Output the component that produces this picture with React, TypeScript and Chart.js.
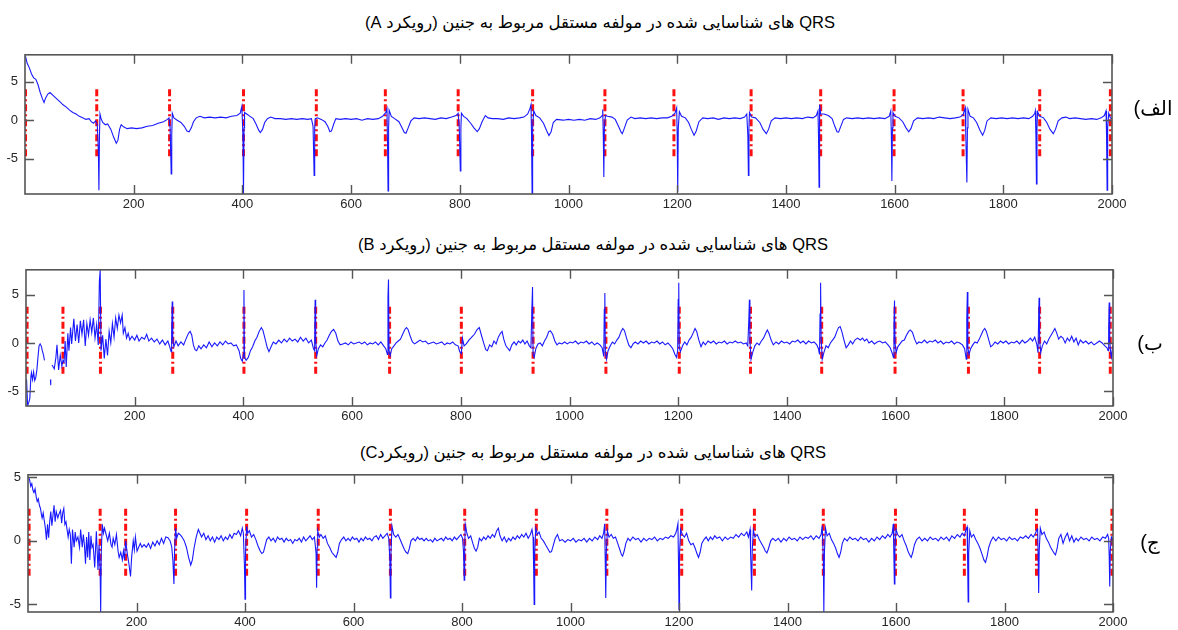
import React, { useEffect, useRef } from "react";
import { Chart, registerables } from "chart.js";
Chart.register(...registerables);

// ---------- data ----------
const xTicks = [200, 400, 600, 800, 1000, 1200, 1400, 1600, 1800, 2000];
const yTicks = [-5, 0, 5];

const titleA = "QRS های شناسایی شده در مولفه مستقل مربوط به جنین (رویکرد A)";
const titleB = "QRS های شناسایی شده در مولفه مستقل مربوط به جنین (رویکرد B)";
const titleC = "QRS های شناسایی شده در مولفه مستقل مربوط به جنین (رویکردC)";
const labelA = "الف)";
const labelB = "ب)";
const labelC = "ج)";

const yRangeA = [-9.6, 8.5];
const yRangeB = [-6.55, 7.6];
const yRangeC = [-5.6, 5.2];

const redA = [1, 132, 266, 402, 536, 663, 797, 934, 1067, 1194, 1336, 1464, 1599, 1726, 1867, 1997];
const redB = [2, 68, 137, 270, 401, 533, 669, 801, 933, 1067, 1202, 1333, 1464, 1599, 1734, 1865, 1995];
const redC = [2, 133, 180, 272, 403, 535, 668, 805, 937, 1067, 1205, 1339, 1466, 1599, 1726, 1859, 1998];
const redSpanA = [-4.7, 4.4];
const redSpanB = [-3.2, 3.9];
const redSpanC = [-2.75, 2.6];

const sigA = [
  [1,8.3],[4,7.4],[8,6.8],[12,6.0],[16,5.5],[20,5.3],[24,4.6],[28,3.6],[32,2.8],[35,2.3],[38,2.9],[42,3.4],[46,3.6],[52,3.2],[58,2.8],[64,2.4],[70,2.0],[76,1.7],[82,1.3],[88,1.0],[94,0.8],[100,0.5],[106,0.3],[112,0.1],[118,0.2],[122,-0.2],[126,-0.4],[130,-0.1],[133,-0.6],[135,-4],[136,-9.1],[137,-2],[138,0.8],[140,0.2],[143,-0.3],[148,-0.6],[152,-0.5],[158,-1.2],[163,-2.2],[168,-3.0],[171,-2.6],[174,-1.2],[177,-0.6],[182,-0.9],[188,-1.1],[196,-1.0],[205,-1.1],[215,-1.0],[225,-0.8],[235,-0.7],[245,-0.4],[255,-0.2],[262,0.1],[265,0.3],[267,-1],[269,-7.0],[270,-2],[271,0.9],[274,0.3],[280,0],[287,-0.3],[293,-0.8],[298,-1.4],[302,-1.5],[306,-1.0],[310,-0.2],[315,0.3],[322,0.5],[330,0.3],[340,0.4],[350,0.3],[360,0.4],[370,0.3],[380,0.5],[390,0.6],[396,0.9],[399,1.8],[401,-2],[402,-9.6],[403,-1],[404,1.0],[408,0.8],[414,0.5],[420,0.2],[425,-0.5],[430,-1.3],[433,-1.6],[437,-1.2],[441,-0.3],[446,0.2],[452,0.4],[460,0.2],[470,0.2],[480,0.1],[490,0.2],[500,0.1],[510,0.2],[520,0.1],[527,0.2],[530,-0.8],[532,-7.2],[533,-1],[534,0.2],[538,0.3],[545,0.1],[552,-0.2],[557,-0.8],[561,-1.5],[564,-1.4],[568,-0.5],[572,0.2],[580,0.1],[590,0.2],[600,0.1],[610,0.2],[620,0.0],[630,0.2],[640,0.1],[650,0.2],[658,0.5],[664,1.0],[666,1.5],[667,-3],[668,-9.2],[669,-1],[670,1.3],[674,0.5],[680,0.2],[688,-0.2],[693,-0.9],[698,-1.6],[701,-1.7],[705,-1.0],[710,-0.1],[716,0.3],[725,0.2],[735,0.3],[745,0.2],[755,0.1],[765,0.3],[775,0.2],[785,0.4],[793,0.6],[797,0.9],[799,-1],[801,-6.6],[802,-1],[803,0.9],[807,0.5],[813,0.2],[820,-0.4],[826,-1.0],[832,-1.5],[836,-1.1],[841,-0.2],[847,0.6],[852,0.3],[860,0.2],[870,0.2],[880,0.1],[890,0.3],[900,0.2],[910,0.3],[918,0.4],[925,0.8],[929,1.5],[931,2.0],[932,-2],[933,-9.6],[934,-1],[936,1.2],[940,0.6],[947,0.3],[954,-0.4],[960,-1.4],[964,-2.0],[968,-1.5],[972,-0.3],[978,0.1],[990,0.0],[1000,0.1],[1010,0.0],[1020,0.1],[1030,0.0],[1040,0.2],[1050,0.1],[1058,0.3],[1062,0.6],[1063,1.4],[1064,-2],[1065,-7.4],[1066,-1],[1068,0.6],[1072,0.5],[1080,0.4],[1086,0.1],[1092,-0.8],[1097,-1.6],[1099,-1.75],[1103,-1.0],[1108,0.0],[1115,0.4],[1122,0.2],[1132,0.3],[1142,0.2],[1152,0.3],[1162,0.2],[1172,0.3],[1182,0.3],[1190,0.5],[1196,0.9],[1199,1.6],[1200,-2],[1201,-9.3],[1202,-1],[1204,1.1],[1208,0.5],[1215,0.3],[1221,-0.3],[1226,-1.2],[1231,-1.95],[1235,-1.4],[1240,-0.2],[1247,0.3],[1256,0.2],[1266,0.3],[1276,0.1],[1286,0.3],[1296,0.2],[1306,0.3],[1316,0.2],[1324,0.4],[1328,0.8],[1330,-2],[1331,-7.2],[1332,-1],[1333,1.0],[1337,0.4],[1344,0.3],[1352,-0.3],[1358,-1.2],[1364,-1.75],[1368,-1.2],[1373,-0.1],[1380,0.3],[1390,0.2],[1400,0.3],[1410,0.2],[1420,0.3],[1430,0.2],[1440,0.4],[1450,0.3],[1456,0.6],[1459,1.2],[1460,-2],[1461,-8.7],[1462,2.0],[1464,0.8],[1470,0.8],[1478,0.6],[1485,0.2],[1490,-0.8],[1494,-1.5],[1497,-1.55],[1501,-0.8],[1506,0.1],[1512,0.3],[1522,0.2],[1532,0.3],[1542,0.2],[1552,0.3],[1562,0.2],[1572,0.3],[1582,0.2],[1590,0.5],[1593,1.2],[1594,-2],[1595,-7.9],[1596,-1],[1597,1.0],[1601,0.5],[1608,0.3],[1615,-0.2],[1621,-1.0],[1626,-1.5],[1630,-1.1],[1635,-0.1],[1642,0.3],[1652,0.2],[1662,0.3],[1672,0.2],[1682,0.4],[1692,0.3],[1702,0.2],[1712,0.3],[1720,0.4],[1726,0.7],[1730,1.6],[1731,-2],[1733,-8.1],[1734,-1],[1735,1.4],[1739,0.5],[1745,0.3],[1751,-0.3],[1757,-1.3],[1762,-1.95],[1766,-1.3],[1770,-0.1],[1777,0.3],[1787,0.2],[1797,0.3],[1807,0.2],[1817,0.3],[1827,0.2],[1837,0.3],[1847,0.2],[1854,0.5],[1858,0.9],[1859,1.2],[1860,-2],[1861,-8.3],[1862,-1],[1863,1.1],[1867,0.5],[1874,0.3],[1880,-0.3],[1886,-1.2],[1892,-1.75],[1896,-1.2],[1901,-0.1],[1908,0.3],[1915,0.4],[1922,0.2],[1932,0.3],[1942,0.2],[1952,0.1],[1962,0.2],[1972,0.1],[1980,0.3],[1986,0.6],[1989,1.2],[1990,-2],[1991,-9.1],[1992,-1],[1994,0.9],[1997,0.3],[2000,0.2]
];

const sigB = [
  [1,-3.8],[3,-6.5],[5,-6.2],[7,-5.8],[9,-3.5],[10,-3.1],[12,-3.8],[14,-3.0],[16,-3.9],[18,-3.6],[20,-2.8],[22,-1.5],[24,-0.3],[26,-0.1],[28,-0.3],[30,-0.8],[32,-1.2],[34,-1.8],[35,null],[45,-3.8],[45.5,-4.4],[46,null],
  [48,-2.3],[52,-2.7],[55,-1.5],[57,-0.2],[60,-2.8],[63,-1.3],[66,-2.4],[68,-1.8],[70,-2.0],[72,0.2],[74,-2.5],[77,1.0],[79,-0.8],[82,1.6],[84,-0.1],[88,2.5],[91,0.2],[94,1.9],[97,0.0],[100,2.3],[103,0.9],[106,2.4],[109,-0.3],[112,2.0],[115,0.8],[118,2.4],[121,1.1],[124,2.6],[127,0.5],[130,1.9],[133,-0.2],[135,6.4],[136.5,7.6],[138,-0.8],[141,0.8],[144,-1.6],[147,0.4],[150,-1.3],[153,1.2],[156,0.0],[159,2.0],[162,0.6],[165,2.6],[168,1.5],[171,2.9],[174,2.1],[177,2.9],[179,1.0],[182,1.6],[185,0.5],[188,1.0],[191,0.3],[195,0.7],[200,0.3],[204,0.8],[208,0.2],[213,0.6],[218,0.4],[222,0.9],[226,0.2],[231,0.5],[236,0.1],[241,0.4],[246,-0.1],[251,0.3],[256,-0.2],[261,0.2],[265,-0.5],[267,-0.9],[268,1.0],[269,4.3],[270,0.5],[272,-0.4],[276,0.2],[280,-0.3],[285,0.1],[290,-0.2],[295,0.5],[299,1.0],[302,1.2],[305,0.8],[308,-0.2],[311,-0.7],[314,-0.8],[318,-0.3],[322,-0.6],[327,-0.2],[332,-0.5],[337,0.1],[342,-0.4],[347,0.0],[352,-0.3],[357,0.1],[362,-0.2],[367,0.2],[372,-0.1],[377,0.0],[382,-0.3],[387,-0.2],[392,-0.8],[395,-1.6],[398,-1.9],[400,-1.2],[401,5.5],[402,-1.5],[405,-1.8],[409,-1.5],[413,-0.8],[417,-0.4],[421,0.2],[425,0.6],[429,1.2],[433,1.6],[436,1.3],[440,0.4],[444,-0.5],[447,-0.9],[451,-0.4],[455,0.1],[460,-0.1],[465,0.3],[470,0.0],[475,0.4],[480,0.1],[485,0.5],[490,0.2],[495,0.4],[500,0.1],[505,0.6],[510,0.2],[515,0.5],[520,0.0],[525,0.3],[529,-0.6],[531,-0.8],[532,4.5],[533,0.3],[535,-1.3],[538,-0.6],[542,-0.2],[546,-0.4],[550,0.0],[554,0.3],[558,0.8],[562,1.2],[566,1.4],[570,1.0],[574,0.2],[578,-0.2],[583,-0.1],[588,0.0],[593,-0.2],[598,0.1],[603,-0.1],[608,0.0],[613,0.1],[618,-0.1],[623,0.1],[628,-0.2],[633,0.0],[638,-0.1],[643,0.1],[648,-0.2],[653,0.1],[658,-0.3],[662,-0.6],[665,-1.2],[666,4.8],[667,6.6],[668,-0.8],[670,-1.3],[673,-0.6],[677,-0.3],[681,0.0],[685,0.2],[689,0.4],[693,0.9],[697,1.4],[700,1.6],[703,1.4],[707,0.7],[711,0.1],[715,-0.1],[720,0.1],[725,0.3],[730,0.1],[735,0.2],[740,-0.1],[745,0.0],[750,0.1],[755,-0.1],[760,0.0],[765,0.1],[770,-0.2],[775,0.0],[780,-0.1],[785,0.1],[790,-0.2],[795,-0.3],[798,-0.9],[801,-1.1],[803,0.5],[806,-0.3],[810,-0.1],[815,0.3],[820,0.6],[825,0.9],[830,1.4],[834,1.6],[838,0.8],[842,0.0],[846,-0.7],[849,-0.8],[853,-0.2],[857,-0.4],[861,0.2],[865,-0.1],[869,0.6],[873,1.0],[876,1.2],[879,0.4],[883,-0.3],[887,-0.6],[890,-0.8],[894,-0.2],[898,0.1],[902,-0.2],[906,0.2],[910,0.0],[914,0.3],[918,-0.1],[922,0.2],[926,-0.3],[929,-0.5],[931,4.0],[932,5.8],[933,-1.2],[935,-1.5],[938,-0.6],[942,-0.1],[946,0.0],[950,-0.3],[954,0.2],[958,0.6],[962,1.2],[965,1.25],[969,0.9],[973,0.2],[977,-0.2],[981,0.0],[986,-0.1],[991,0.1],[996,-0.1],[1001,0.1],[1006,0.0],[1011,0.2],[1016,-0.1],[1021,0.1],[1026,0.0],[1031,0.2],[1036,-0.1],[1041,0.1],[1046,-0.2],[1051,0.0],[1056,-0.2],[1060,-0.5],[1063,-1.4],[1064,3.5],[1065,5.2],[1066,-1.0],[1068,-1.7],[1071,-0.8],[1075,-0.3],[1079,0.1],[1083,-0.1],[1087,0.3],[1091,0.6],[1095,1.2],[1098,1.5],[1101,1.3],[1105,0.5],[1109,-0.2],[1113,-0.5],[1117,-0.1],[1121,0.1],[1126,-0.1],[1131,0.2],[1136,0.0],[1141,0.2],[1146,-0.1],[1151,0.1],[1156,0.0],[1161,0.2],[1166,-0.1],[1171,0.1],[1176,-0.2],[1181,0.0],[1186,-0.3],[1190,-0.6],[1194,-1.2],[1197,-1.5],[1199,-0.8],[1200,4.5],[1201,6.25],[1202,-0.5],[1204,-0.9],[1208,-0.3],[1212,0.1],[1216,-0.2],[1220,0.3],[1224,0.6],[1228,1.1],[1231,1.5],[1234,1.2],[1238,0.3],[1242,-0.4],[1246,0.1],[1250,-0.2],[1255,0.2],[1260,0.0],[1265,0.2],[1270,-0.1],[1275,0.1],[1280,0.0],[1285,0.2],[1290,-0.1],[1295,0.1],[1300,0.0],[1305,0.2],[1310,0.0],[1315,0.1],[1320,-0.1],[1325,0.0],[1328,-0.3],[1330,2.5],[1331,4.5],[1332,0.2],[1334,-1.7],[1337,-1.0],[1341,-0.3],[1345,0.0],[1349,-0.2],[1353,0.2],[1357,0.5],[1361,1.0],[1364,1.35],[1367,1.0],[1371,0.3],[1375,-0.2],[1380,0.1],[1385,-0.1],[1390,0.2],[1395,0.0],[1400,0.1],[1405,-0.1],[1410,0.2],[1415,0.1],[1420,0.3],[1425,0.0],[1430,0.2],[1435,-0.1],[1440,0.2],[1445,0.0],[1450,0.1],[1455,-0.2],[1458,-0.6],[1460,-1.2],[1461,3.0],[1462,6.25],[1463,0.5],[1465,-1.7],[1468,-1.0],[1472,-0.3],[1476,-0.5],[1480,0.0],[1484,0.3],[1488,0.6],[1492,1.2],[1495,1.6],[1498,1.7],[1501,1.2],[1505,0.3],[1509,-0.5],[1513,-0.2],[1517,0.2],[1521,-0.1],[1525,0.3],[1530,0.5],[1535,0.3],[1539,0.5],[1543,0.2],[1547,0.4],[1551,0.0],[1556,0.2],[1561,-0.1],[1566,0.1],[1571,0.2],[1576,0.0],[1581,0.1],[1586,-0.2],[1590,-0.5],[1594,-1.1],[1596,-1.5],[1597,2.0],[1598,4.4],[1599,0.0],[1601,-1.0],[1604,-0.4],[1608,-0.1],[1612,0.2],[1616,0.3],[1620,0.8],[1624,1.2],[1627,1.35],[1631,1.1],[1635,0.4],[1639,-0.1],[1643,0.1],[1648,0.0],[1653,0.3],[1658,0.0],[1663,0.2],[1668,0.1],[1673,0.3],[1678,0.0],[1683,0.2],[1688,-0.1],[1693,0.1],[1698,0.0],[1703,0.2],[1708,-0.1],[1713,0.1],[1718,0.0],[1723,-0.2],[1727,-0.6],[1730,-1.7],[1731,2.5],[1732,5.3],[1733,-0.5],[1735,-1.2],[1738,-0.6],[1742,-0.2],[1746,0.1],[1750,0.0],[1754,0.4],[1758,0.9],[1761,1.3],[1764,1.5],[1767,1.2],[1771,0.4],[1775,-0.4],[1779,-0.2],[1783,0.1],[1788,-0.1],[1793,0.2],[1798,0.0],[1803,0.2],[1808,-0.1],[1813,0.1],[1818,0.0],[1823,0.2],[1828,-0.1],[1833,0.3],[1838,0.0],[1843,0.2],[1848,0.5],[1852,0.2],[1856,0.6],[1860,-0.2],[1862,-1.0],[1863,2.0],[1864,4.7],[1865,0.3],[1867,-1.0],[1870,-0.3],[1874,0.2],[1878,-0.1],[1882,0.4],[1886,0.8],[1890,1.2],[1893,1.5],[1896,1.1],[1900,0.4],[1904,0.7],[1908,0.5],[1912,0.0],[1916,0.5],[1920,0.2],[1924,0.7],[1928,0.1],[1932,0.5],[1936,-0.2],[1940,0.3],[1945,0.0],[1950,0.2],[1955,-0.1],[1960,0.1],[1965,-0.2],[1970,0.0],[1975,0.2],[1980,0.0],[1985,-0.3],[1989,-0.5],[1991,-0.8],[1992,1.5],[1993,4.2],[1994,0.2],[1996,-1.2],[1997,-1.5],[1999,-0.5],[2000,-0.2]
];

const sigC = [
  [1,5.0],[3,4.8],[5,4.3],[7,4.5],[9,4.0],[11,3.8],[13,4.1],[15,3.5],[17,3.1],[19,3.3],[21,2.8],[23,2.55],[25,2.0],[26,1.8],[28,2.2],[30,1.6],[32,1.0],[34,0.1],[36,1.3],[38,0.25],[40,1.5],[42,2.3],[44,1.2],[46,2.0],[48,2.8],[50,1.5],[52,2.3],[55,1.8],[57,2.1],[60,2.4],[62,1.4],[64,2.2],[66,2.55],[68,1.3],[70,1.5],[72,0.9],[74,0.3],[76,0.9],[78,0.5],[80,-1.8],[82,0.9],[85,-0.5],[87,0.7],[89,0.0],[92,0.3],[95,-0.5],[97,0.9],[100,-0.5],[102,0.5],[104,-0.3],[106,-1.8],[108,0.3],[110,-1.3],[112,0.7],[114,-1.5],[116,0.4],[118,-0.5],[120,-0.3],[123,-2.1],[126,0.75],[129,-2.3],[131,-0.3],[133,-2.5],[134,-5.6],[135,-1.0],[137,1.3],[139,0.6],[141,1.0],[144,0.5],[147,0.0],[150,0.6],[153,-0.3],[155,-0.5],[157,0.2],[160,-0.3],[163,0.5],[166,-0.8],[168,-1.3],[171,-0.9],[174,-1.5],[176,-0.8],[178,-1.5],[180,0.0],[183,-1.0],[186,-1.8],[189,-2.8],[191,-1.3],[194,0.0],[196,-0.7],[198,0.3],[201,-0.8],[204,-0.5],[207,-0.2],[210,-0.5],[214,-0.3],[218,-0.5],[222,-0.2],[226,-0.6],[230,-0.1],[234,-0.4],[238,0.0],[242,-0.3],[246,0.2],[250,-0.2],[254,0.3],[258,0.25],[262,0.0],[265,-0.5],[267,-1.5],[269,-3.4],[270,-1.0],[272,1.0],[274,0.2],[277,0.6],[280,0.5],[284,0.3],[288,0.0],[292,-0.5],[296,-1.3],[300,-1.9],[303,-1.5],[306,-0.6],[310,0.3],[314,0.9],[317,0.6],[320,0.3],[324,0.6],[328,0.1],[332,0.4],[336,0.0],[340,0.3],[344,-0.1],[348,0.3],[352,0.1],[356,0.4],[360,0.0],[364,0.3],[368,0.1],[372,0.5],[376,0.2],[380,0.6],[384,0.5],[388,0.8],[392,0.4],[395,1.0],[397,0.6],[399,-2.0],[400,-4.6],[401,-1.0],[403,1.15],[405,0.6],[408,0.8],[412,0.3],[416,0.5],[420,0.1],[424,-0.4],[428,-0.8],[431,-1.0],[434,-0.9],[437,-0.4],[440,0.1],[444,0.3],[448,0.0],[452,0.2],[456,-0.1],[460,0.3],[464,0.1],[468,0.2],[472,-0.1],[476,0.2],[480,0.0],[484,0.1],[488,-0.2],[492,0.1],[496,0.0],[500,0.2],[504,-0.1],[508,0.3],[512,0.0],[516,0.2],[520,0.4],[524,0.1],[528,0.3],[531,-1.0],[532,-3.7],[533,-0.5],[534,0.8],[537,0.3],[540,0.5],[544,0.2],[548,0.4],[552,-0.2],[556,-0.5],[560,-0.9],[564,-1.1],[568,-1.3],[571,-0.9],[574,-0.2],[578,0.1],[582,0.3],[586,0.0],[590,0.2],[594,0.0],[598,0.3],[602,0.1],[606,0.2],[610,-0.1],[614,0.2],[618,0.0],[622,0.3],[626,0.1],[630,0.2],[634,0.0],[638,0.3],[642,0.4],[646,0.1],[650,0.5],[654,0.2],[658,0.4],[662,0.6],[665,0.2],[667,-1.5],[668,-4.5],[669,-1.0],[671,1.15],[674,0.5],[678,0.3],[682,0.5],[686,0.1],[690,-0.3],[694,-0.7],[697,-0.9],[700,-1.0],[703,-0.6],[706,0.0],[710,0.2],[714,0.0],[718,0.3],[722,0.1],[726,0.2],[730,0.0],[734,0.2],[738,0.0],[742,0.1],[746,-0.1],[750,0.2],[754,0.0],[758,0.1],[762,0.2],[766,0.0],[770,0.3],[774,0.1],[778,0.2],[782,0.0],[786,0.3],[790,0.1],[794,0.3],[798,0.5],[801,0.2],[803,-1.0],[804,-3.1],[805,-0.5],[806,1.3],[809,0.6],[812,0.2],[816,0.4],[820,-0.2],[823,-0.6],[826,-0.8],[829,-0.5],[832,0.2],[836,0.0],[840,0.3],[844,0.1],[848,0.4],[852,0.2],[856,0.5],[860,0.3],[864,0.8],[867,1.0],[870,0.4],[874,0.0],[878,0.3],[882,-0.1],[886,0.2],[890,0.0],[894,0.3],[898,0.1],[902,0.4],[906,0.2],[910,0.5],[914,0.3],[918,0.6],[922,0.2],[926,0.5],[929,0.9],[931,0.3],[932,-2.0],[933,-5.0],[934,-1.0],[936,1.0],[939,0.5],[942,0.7],[946,0.2],[950,0.0],[954,-0.3],[958,-0.6],[962,-0.9],[965,-0.85],[968,-0.4],[972,0.2],[976,0.5],[980,0.0],[985,0.1],[990,-0.1],[995,0.1],[1000,0.0],[1005,0.2],[1010,-0.1],[1015,0.1],[1020,0.0],[1025,0.2],[1030,-0.1],[1035,0.2],[1040,0.0],[1045,0.3],[1050,0.1],[1054,0.4],[1058,0.2],[1061,0.6],[1063,1.35],[1064,-1.5],[1065,-4.5],[1066,-1.0],[1068,0.8],[1071,0.3],[1075,0.5],[1079,0.2],[1083,0.3],[1087,-0.2],[1091,-0.7],[1094,-1.1],[1096,-1.2],[1099,-0.8],[1102,-0.2],[1106,0.2],[1110,0.0],[1115,0.3],[1120,0.1],[1125,0.2],[1130,-0.1],[1135,0.2],[1140,0.0],[1145,0.2],[1150,0.1],[1155,0.3],[1160,0.0],[1165,0.2],[1170,0.1],[1175,0.3],[1180,0.2],[1185,0.4],[1190,0.3],[1194,0.6],[1196,0.9],[1198,1.35],[1199,-1.5],[1200,-5.4],[1201,-1.0],[1203,0.9],[1206,0.5],[1210,0.3],[1214,0.6],[1218,0.0],[1222,-0.3],[1226,-0.2],[1230,-0.6],[1233,-1.0],[1236,-1.3],[1239,-0.9],[1242,-0.2],[1246,0.1],[1250,0.3],[1254,0.0],[1258,0.3],[1262,0.1],[1266,0.4],[1270,0.2],[1275,0.3],[1280,0.0],[1285,0.3],[1290,0.1],[1295,0.3],[1300,0.2],[1305,0.5],[1310,0.3],[1315,0.6],[1320,0.4],[1325,0.7],[1328,0.3],[1331,0.9],[1332,-1.0],[1334,-3.9],[1335,-0.8],[1337,0.85],[1340,0.3],[1344,0.5],[1348,0.1],[1352,-0.2],[1356,-0.5],[1359,-0.8],[1362,-0.95],[1365,-0.6],[1369,0.0],[1373,0.2],[1378,0.0],[1383,0.2],[1388,-0.1],[1393,0.2],[1398,0.0],[1403,0.3],[1408,0.1],[1413,0.2],[1418,0.0],[1423,0.3],[1428,0.1],[1433,0.3],[1438,0.2],[1443,0.4],[1448,0.1],[1453,0.4],[1458,0.2],[1462,0.5],[1464,1.2],[1466,-1.5],[1467,-5.6],[1468,-1.0],[1470,1.0],[1473,0.4],[1477,0.6],[1481,0.1],[1485,-0.2],[1489,-0.6],[1492,-1.0],[1495,-1.3],[1498,-0.9],[1501,-0.2],[1505,0.2],[1510,0.0],[1515,0.3],[1520,0.1],[1525,0.2],[1530,0.0],[1535,0.3],[1540,0.1],[1545,0.2],[1550,-0.1],[1555,0.2],[1560,0.0],[1565,0.3],[1570,0.1],[1575,0.4],[1580,0.2],[1585,0.5],[1589,0.3],[1593,0.6],[1595,1.35],[1596,-1.0],[1597,-3.4],[1598,-0.8],[1600,0.9],[1603,0.5],[1607,0.3],[1611,0.5],[1615,0.0],[1619,-0.4],[1622,-0.8],[1625,-1.1],[1628,-1.3],[1631,-0.9],[1634,-0.3],[1638,0.1],[1643,0.3],[1648,0.0],[1653,0.2],[1658,0.0],[1663,0.3],[1668,0.1],[1673,0.2],[1678,0.0],[1683,0.3],[1688,0.1],[1693,0.3],[1698,0.0],[1703,0.4],[1708,0.2],[1713,0.5],[1718,0.3],[1722,0.6],[1726,0.4],[1729,0.9],[1731,1.1],[1732,-1.5],[1733,-4.8],[1734,-1.0],[1736,0.8],[1739,0.3],[1743,0.5],[1747,0.1],[1751,-0.2],[1755,-0.6],[1759,-1.1],[1762,-1.5],[1765,-1.7],[1768,-1.2],[1771,-0.5],[1775,0.0],[1779,0.3],[1784,0.0],[1789,0.3],[1794,0.1],[1799,0.2],[1804,0.0],[1809,0.3],[1814,0.1],[1819,0.2],[1824,0.0],[1829,0.3],[1834,0.2],[1839,0.4],[1844,0.2],[1849,0.5],[1853,0.3],[1857,0.6],[1860,0.9],[1861,1.0],[1862,-1.2],[1863,-4.1],[1864,-0.8],[1866,1.0],[1869,0.5],[1873,0.7],[1877,0.2],[1881,-0.1],[1885,-0.5],[1889,-0.8],[1892,-1.0],[1894,-1.1],[1897,-0.6],[1900,0.2],[1904,0.5],[1908,-0.2],[1912,0.3],[1916,0.6],[1920,0.0],[1924,0.4],[1928,-0.1],[1932,0.2],[1936,0.0],[1941,0.3],[1946,0.1],[1951,0.2],[1956,0.0],[1961,0.3],[1966,0.1],[1971,0.2],[1976,0.0],[1981,0.3],[1986,0.2],[1990,0.5],[1992,0.2],[1993,-1.2],[1994,-3.6],[1995,-0.8],[1997,0.3],[2000,0.1]
];

// ---------- layout / style ----------
const W = 1178;
const TICK_FONT = { family: "'Liberation Sans', Arial, sans-serif", size: 13 };
const TICK_COLOR = "#262626";
const BOX_COLOR = "#555555";
const SIGNAL_COLOR = "rgb(25,25,255)";
const QRS_COLOR = "#ff1010";

const boxPlugin = {
  id: "matlabBox",
  afterDraw(chart: any) {
    const { ctx, chartArea: a, scales } = chart;
    const xs = scales.x;
    const ys = scales.y;
    ctx.save();
    ctx.strokeStyle = BOX_COLOR;
    ctx.lineWidth = 1.6;
    ctx.strokeRect(a.left, a.top, a.right - a.left, a.bottom - a.top);
    ctx.lineWidth = 1.4;
    const tl = 9;
    ctx.beginPath();
    for (const v of xTicks) {
      const p = Math.round(xs.getPixelForValue(v)) + 0.5;
      ctx.moveTo(p, a.bottom);
      ctx.lineTo(p, a.bottom - tl);
      ctx.moveTo(p, a.top);
      ctx.lineTo(p, a.top + tl);
    }
    for (const v of yTicks) {
      const p = Math.round(ys.getPixelForValue(v)) + 0.5;
      ctx.moveTo(a.left, p);
      ctx.lineTo(a.left + tl, p);
      ctx.moveTo(a.right, p);
      ctx.lineTo(a.right - tl, p);
    }
    ctx.stroke();
    ctx.restore();
  },
};

type PanelProps = {
  sig: (number | null)[][];
  red: number[];
  redSpan: number[];
  yRange: number[];
  top: number;
  height: number;
  area: { l: number; r: number; t: number; b: number };
};

function Panel({ sig, red, redSpan, yRange, top, height, area }: PanelProps) {
  const ref = useRef<HTMLCanvasElement | null>(null);
  useEffect(() => {
    if (!ref.current) return;
    const signal = sig.map(([x, y]) => ({ x: x as number, y }));
    const qrs: any[] = [];
    red.forEach((r) => {
      qrs.push({ x: r, y: redSpan[0] }, { x: r, y: redSpan[1] }, { x: r, y: null });
    });
    const chart = new Chart(ref.current, {
      type: "line",
      data: {
        datasets: [
          {
            data: signal as any,
            borderColor: SIGNAL_COLOR,
            borderWidth: 1.1,
            pointRadius: 0,
            tension: 0,
            spanGaps: false,
            order: 0,
          },
          {
            data: qrs,
            borderColor: QRS_COLOR,
            borderWidth: 3,
            borderDash: [7, 3, 2, 3],
            pointRadius: 0,
            tension: 0,
            spanGaps: false,
            order: 1,
          },
        ],
      },
      options: {
        animation: false,
        responsive: false,
        maintainAspectRatio: false,
        events: [],
        layout: { padding: { top: area.t - top, right: W - area.r, left: 0, bottom: 0 } },
        plugins: { legend: { display: false }, tooltip: { enabled: false }, title: { display: false } },
        scales: {
          x: {
            type: "linear",
            min: 0,
            max: 2000,
            grid: { display: false, drawTicks: false, tickLength: 0 },
            border: { display: false },
            afterBuildTicks: (s: any) => {
              s.ticks = xTicks.map((v) => ({ value: v }));
            },
            afterFit: (s: any) => {
              s.height = top + height - area.b;
            },
            ticks: {
              font: TICK_FONT,
              color: TICK_COLOR,
              padding: 3,
              maxRotation: 0,
              autoSkip: false,
              callback: (v: any) => String(v),
            },
          },
          y: {
            type: "linear",
            min: yRange[0],
            max: yRange[1],
            grid: { display: false, drawTicks: false, tickLength: 0 },
            border: { display: false },
            afterBuildTicks: (s: any) => {
              s.ticks = yTicks.map((v) => ({ value: v }));
            },
            afterFit: (s: any) => {
              s.width = area.l;
            },
            ticks: {
              font: TICK_FONT,
              color: TICK_COLOR,
              padding: 7,
              callback: (v: any) => String(v),
            },
          },
        },
      },
      plugins: [boxPlugin],
    });
    return () => chart.destroy();
  }, []);
  return (
    <canvas
      ref={ref}
      width={W}
      height={height}
      style={{ position: "absolute", left: 0, top, width: W, height }}
    />
  );
}

const textStyle: React.CSSProperties = {
  position: "absolute",
  whiteSpace: "nowrap",
  fontFamily: "'Liberation Sans', 'DejaVu Sans', sans-serif",
  color: "#000",
};

function Title({ text, cx, cy }: { text: string; cx: number; cy: number }) {
  return (
    <div
      dir="rtl"
      style={{ ...textStyle, left: cx, top: cy - 11, lineHeight: "22px", fontSize: 16.5, transform: "translateX(-50%)" }}
    >
      {text}
    </div>
  );
}

function SideLabel({ text, cx, cy }: { text: string; cx: number; cy: number }) {
  return (
    <div
      dir="rtl"
      style={{ ...textStyle, left: cx, top: cy - 15, lineHeight: "30px", fontSize: 20, transform: "translateX(-50%)" }}
    >
      {text}
    </div>
  );
}

export default function App() {
  return (
    <div style={{ position: "absolute", left: 0, top: 0, width: W, height: 630, background: "#fff", overflow: "hidden" }}>
      <Title text={titleA} cx={600} cy={22} />
      <Panel sig={sigA} red={redA} redSpan={redSpanA} yRange={yRangeA} top={40} height={180} area={{ l: 25, r: 1112, t: 53, b: 194 }} />
      <SideLabel text={labelA} cx={1153} cy={108} />

      <Title text={titleB} cx={593} cy={244} />
      <Panel sig={sigB} red={redB} redSpan={redSpanB} yRange={yRangeB} top={255} height={175} area={{ l: 26, r: 1113, t: 265, b: 406 }} />
      <SideLabel text={labelB} cx={1150} cy={343} />

      <Title text={titleC} cx={593} cy={452} />
      <Panel sig={sigC} red={redC} redSpan={redSpanC} yRange={yRangeC} top={460} height={170} area={{ l: 28, r: 1113, t: 471, b: 612 }} />
      <SideLabel text={labelC} cx={1150} cy={542} />
    </div>
  );
}
